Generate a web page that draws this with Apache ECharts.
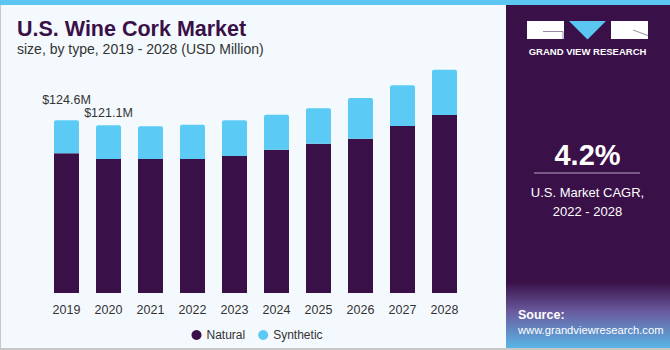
<!DOCTYPE html>
<html>
<head>
<meta charset="utf-8">
<script src="https://cdn.jsdelivr.net/npm/echarts@6/dist/echarts.min.js"></script>
<style>
	html, body { margin: 0; padding: 0; background: #f4f9fd; }
	#chart { width: 670px; height: 350px; }
</style>
</head>
<body>
<div id="chart"></div>
<script>
	// Values (USD Million)
	var years = ['2019', '2020', '2021', '2022', '2023', '2024', '2025', '2026', '2027', '2028'];
	var natural = [100.8, 96.7, 96.7, 96.7, 98.8, 103.4, 107.7, 111.3, 120.5, 128.4];
	var synthetic = [23.8, 24.4, 23.6, 24.7, 25.8, 25.2, 25.6, 29.4, 29.4, 32.7];
	var totalLabels = { 0: '$124.6M', 1: '$121.1M' };
	var labelGap = { 0: 14, 1: 6 };

	var dark = '#3a1048';
	var blue = '#5bcbf5';
	var textColor = '#333333';
	var font = '"Liberation Sans", Arial, sans-serif';

	var chart = echarts.init( document.getElementById( 'chart' ), null, { renderer: 'svg' } );

	// Label only the first two bars, like the original
	var synthData = synthetic.map( function ( v, i ) {
		if ( totalLabels[i] === undefined ) return v;
		return {
			value: v,
			label: {
				show: true,
				position: 'top',
				distance: labelGap[i],
				formatter: totalLabels[i],
				color: textColor,
				fontSize: 12.5,
				fontFamily: font
			}
		};
	} );

	var option = {
		backgroundColor: '#f4f9fd',
		animation: false,
		grid: { left: 45.5, width: 420, top: 43.5, bottom: 57 },
		legend: {
			data: ['Natural', 'Synthetic'],
			left: 186.5,
			top: 324,
			icon: 'circle',
			itemWidth: 10,
			itemHeight: 10,
			itemGap: 13,
			textStyle: { color: textColor, fontSize: 12, fontFamily: font }
		},
		xAxis: {
			type: 'category',
			data: years,
			axisLine: { show: false },
			axisTick: { show: false },
			axisLabel: { color: textColor, fontSize: 12.5, fontFamily: font, margin: 10 }
		},
		yAxis: {
			type: 'value',
			min: 0,
			max: 180,
			show: false,
			splitLine: { show: false }
		},
		series: [
			{
				name: 'Natural',
				type: 'bar',
				stack: 'total',
				barWidth: 25,
				itemStyle: { color: dark },
				data: natural
			},
			{
				name: 'Synthetic',
				type: 'bar',
				stack: 'total',
				barWidth: 25,
				itemStyle: { color: blue, borderRadius: [2, 2, 0, 0] },
				data: synthData
			}
		],
		graphic: [
			// top strip
			{ type: 'rect', shape: { x: 0, y: 0, width: 670, height: 5 }, style: { fill: '#5bc6f2' }, z: 10 },
			// frame
			{ type: 'rect', shape: { x: 0, y: 5, width: 1, height: 345 }, style: { fill: '#c8c8c8' } },
			{ type: 'rect', shape: { x: 0, y: 348, width: 670, height: 2 }, style: { fill: '#c8c8c8' } },
			// title
			{ type: 'text', x: 17, y: 28.5, style: { text: 'U.S. Wine Cork Market', fill: dark, font: '900 21.5px ' + font, textVerticalAlign: 'middle' } },
			{ type: 'text', x: 17, y: 49, style: { text: 'size, by type, 2019 - 2028 (USD Million)', fill: textColor, font: '14px ' + font, textVerticalAlign: 'middle' } },
			// right panel
			{ type: 'rect', shape: { x: 506, y: 5, width: 164, height: 343 }, style: { fill: dark } },
			{
				type: 'rect', shape: { x: 506, y: 282, width: 164, height: 66 },
				style: {
					fill: new echarts.graphic.LinearGradient( 0, 0, 0, 1, [
						{ offset: 0, color: dark },
						{ offset: 0.45, color: '#6a5a9e' },
						{ offset: 1, color: '#5ab6e6' }
					] )
				}
			},
			// logo
			{ type: 'rect', shape: { x: 527, y: 21, width: 37, height: 18 }, style: { fill: '#ffffff' } },
			{ type: 'polyline', shape: { points: [[543, 31.5], [563, 31.5], [563, 39]] }, style: { stroke: '#9a8aa8', lineWidth: 1, fill: null } },
			{ type: 'polygon', shape: { points: [[569, 21], [606, 21], [587.5, 39.5]] }, style: { fill: '#5bc6f2' } },
			{ type: 'rect', shape: { x: 611, y: 21, width: 37, height: 18 }, style: { fill: '#ffffff' } },
			{ type: 'line', shape: { x1: 633, y1: 30, x2: 648, y2: 35.5 }, style: { stroke: '#9a8aa8', lineWidth: 1 } },
			{ type: 'text', x: 587.5, y: 51, style: { text: 'GRAND VIEW RESEARCH', fill: '#ffffff', font: 'bold 9.5px ' + font, textAlign: 'center', textVerticalAlign: 'middle' } },
			// CAGR
			{ type: 'text', x: 587.5, y: 155, style: { text: '4.2%', fill: '#ffffff', font: 'bold 29px ' + font, textAlign: 'center', textVerticalAlign: 'middle' } },
			{ type: 'line', shape: { x1: 534, y1: 173, x2: 640, y2: 173 }, style: { stroke: '#b4a6c4', lineWidth: 1.2 } },
			{ type: 'text', x: 587.5, y: 192, style: { text: 'U.S. Market CAGR,', fill: '#ffffff', font: '13px ' + font, textAlign: 'center', textVerticalAlign: 'middle' } },
			{ type: 'text', x: 587.5, y: 211, style: { text: '2022 - 2028', fill: '#ffffff', font: '13px ' + font, textAlign: 'center', textVerticalAlign: 'middle' } },
			// source
			{ type: 'text', x: 518, y: 315, style: { text: 'Source:', fill: '#ffffff', font: 'bold 12.5px ' + font, textVerticalAlign: 'middle' } },
			{ type: 'text', x: 518, y: 330, style: { text: 'www.grandviewresearch.com', fill: '#ffffff', font: '11.2px ' + font, textVerticalAlign: 'middle' } }
		]
	};

	chart.setOption( option );
</script>
</body>
</html>
